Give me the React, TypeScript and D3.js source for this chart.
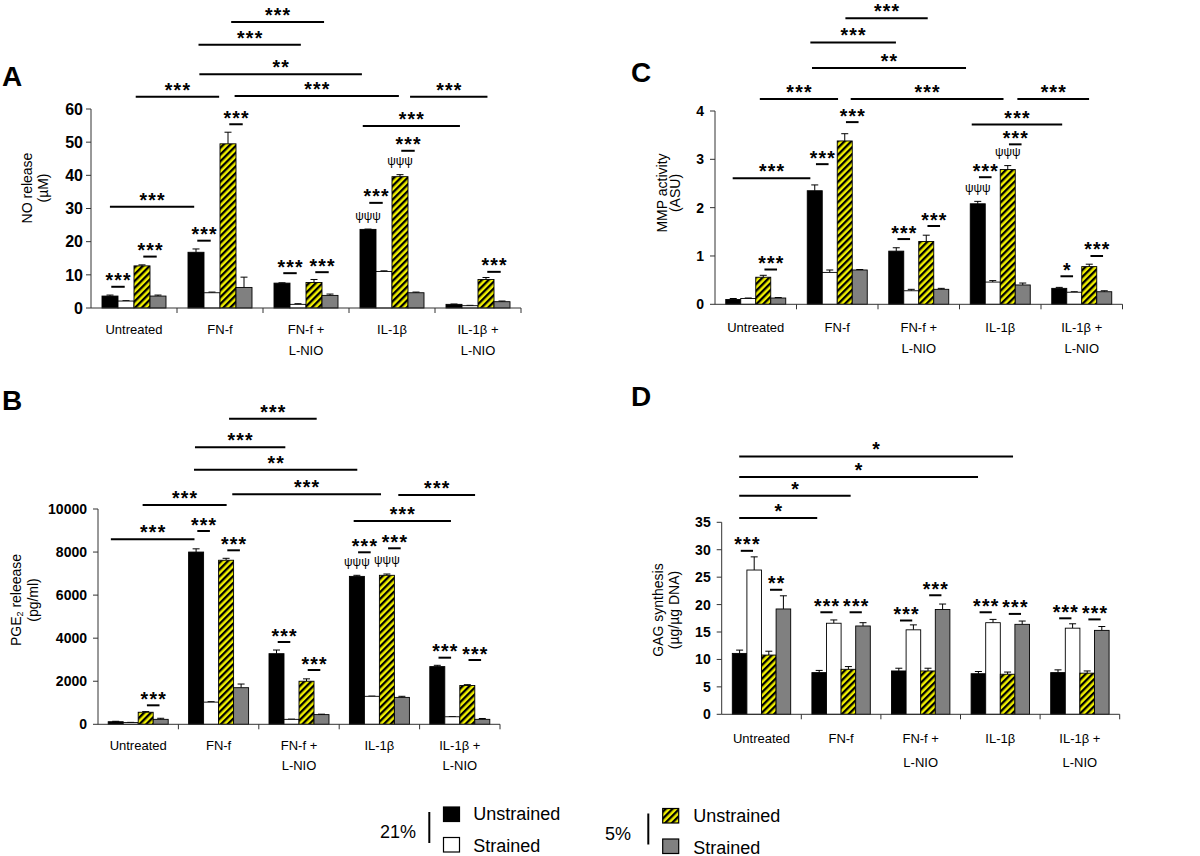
import React from "react";
import * as d3 from "d3";

// ---------- shared data ----------
const categoryLines: string[][] = [["Untreated"], ["FN-f"], ["FN-f +", "L-NIO"], ["IL-1β"], ["IL-1β +", "L-NIO"]];
const seriesLabels = ["21% Unstrained", "21% Strained", "5% Unstrained", "5% Strained"];
const legendGroups = ["21%", "5%"];
const legendItems = ["Unstrained", "Strained"];

// ---------- Panel A: NO release (µM) ----------
const noMean = [[3.6, 2.1, 12.7, 3.6], [16.8, 4.6, 49.5, 6.2], [7.5, 1.1, 7.7, 3.8], [23.7, 11.0, 39.6, 4.6], [1.1, 0.7, 8.6, 1.9]];
const noErr = [[0.3, 0.1, 0.3, 0.3], [1.0, 0.2, 3.5, 3.1], [0.1, 0.2, 0.9, 0.4], [0.1, 0.2, 0.6, 0.2], [0.1, 0.1, 0.6, 0.2]];
const noTicks = [0, 10, 20, 30, 40, 50, 60];
const noPairs: [number, number, number, number, string][] = [
  [0, 0, 1, 6.4, "***"], [0, 2, 3, 15.5, "***"], [1, 0, 1, 20.3, "***"], [1, 2, 3, 55.4, "***"],
  [2, 0, 1, 10.5, "***"], [2, 2, 3, 10.8, "***"], [3, 0, 1, 31.7, "***"], [3, 2, 3, 47.4, "***"], [4, 2, 3, 10.9, "***"],
];
const noPsi: [number, number, number][] = [[3, 0, 27.5], [3, 2, 44.1]];
const noSpans: [number, number, number, string][] = [
  [0.22, 1.2, 30.5, "***"], [3.16, 4.29, 54.9, "***"], [0.52, 1.49, 63.7, "***"], [1.67, 3.58, 63.9, "***"],
  [3.71, 4.61, 63.7, "***"], [1.26, 3.15, 70.5, "**"], [1.25, 2.44, 79.4, "***"], [1.63, 2.71, 86.2, "***"],
];

// ---------- Panel B: PGE2 release (pg/ml) ----------
const pgeMean = [[120, 80, 560, 230], [8000, 1030, 7620, 1700], [3280, 230, 2000, 450], [6870, 1300, 6920, 1250], [2680, 350, 1800, 230]];
const pgeErr = [[20, 10, 30, 50], [150, 20, 90, 170], [170, 10, 110, 20], [50, 10, 60, 50], [60, 10, 40, 40]];
const pgeTicks = [0, 2000, 4000, 6000, 8000, 10000];
const pgePairs: [number, number, number, number, string][] = [
  [0, 2, 3, 882, "***"], [1, 0, 1, 8978, "***"], [1, 2, 3, 8082, "***"], [2, 0, 1, 3822, "***"], [2, 2, 3, 2522, "***"],
  [3, 0, 1, 7989, "***"], [3, 2, 3, 8175, "***"], [4, 0, 1, 3094, "***"], [4, 2, 3, 2986, "***"],
];
const pgePsi: [number, number, number][] = [[3, 0, 7524], [3, 2, 7631]];
const pgeSpans: [number, number, number, string][] = [
  [0.16, 1.2, 8593, "***"], [0.555, 1.6, 10186, "***"], [1.67, 3.52, 10683, "***"], [3.735, 4.69, 10650, "***"],
  [3.18, 4.39, 9443, "***"], [1.194, 3.225, 11826, "**"], [1.206, 2.33, 12866, "***"], [1.63, 2.72, 14194, "***"],
];

// ---------- Panel C: MMP activity (ASU) ----------
const mmpMean = [[0.1, 0.12, 0.56, 0.13], [2.35, 0.66, 3.38, 0.71], [1.1, 0.28, 1.3, 0.31], [2.08, 0.46, 2.79, 0.4], [0.33, 0.25, 0.78, 0.26]];
const mmpErr = [[0.02, 0.01, 0.04, 0.01], [0.12, 0.05, 0.15, 0.01], [0.07, 0.03, 0.13, 0.02], [0.05, 0.03, 0.08, 0.04], [0.02, 0.01, 0.05, 0.02]];
const mmpTicks = [0, 1, 2, 3, 4];
const mmpPairs: [number, number, number, number, string][] = [
  [0, 2, 3, 0.72, "***"], [1, 0, 1, 2.9, "***"], [1, 2, 3, 3.77, "***"], [2, 0, 1, 1.35, "***"], [2, 2, 3, 1.62, "***"],
  [3, 0, 1, 2.63, "***"], [3, 2, 3, 3.31, "***"], [4, 0, 1, 0.58, "*"], [4, 2, 3, 1.0, "***"],
];
const mmpPsi: [number, number, number][] = [[3, 0, 2.39], [3, 2, 3.14]];
const mmpSpans: [number, number, number, string][] = [
  [0.217, 1.17, 2.61, "***"], [0.55, 1.51, 4.25, "***"], [1.665, 3.54, 4.25, "***"], [3.71, 4.59, 4.25, "***"],
  [3.15, 4.26, 3.72, "***"], [1.19, 3.08, 4.89, "**"], [1.17, 2.22, 5.42, "***"], [1.6, 2.61, 5.92, "***"],
];

// ---------- Panel D: GAG synthesis (µg/µg DNA) ----------
const gagMean = [[11.1, 26.3, 10.8, 19.2], [7.6, 16.6, 8.2, 16.1], [7.9, 15.4, 7.9, 19.1], [7.4, 16.7, 7.3, 16.4], [7.6, 15.7, 7.5, 15.3]];
const gagErr = [[0.6, 2.4, 0.7, 2.4], [0.4, 0.6, 0.5, 0.6], [0.5, 0.9, 0.5, 1.0], [0.4, 0.6, 0.4, 0.6], [0.5, 0.8, 0.4, 0.7]];
const gagTicks = [0, 5, 10, 15, 20, 25, 30, 35];
const gagPairs: [number, number, number, number, string][] = [
  [0, 0, 1, 29.8, "***"], [0, 2, 3, 22.7, "**"], [1, 0, 1, 18.6, "***"], [1, 2, 3, 18.6, "***"], [2, 0, 1, 17.1, "***"],
  [2, 2, 3, 21.7, "***"], [3, 0, 1, 18.6, "***"], [3, 2, 3, 18.3, "***"], [4, 0, 1, 17.5, "***"], [4, 2, 3, 17.3, "***"],
];
const gagPsi: [number, number, number][] = [];
const gagSpans: [number, number, number, string][] = [
  [0.22, 1.2, 35.8, "*"], [0.22, 1.62, 39.85, "*"], [0.22, 3.22, 43.25, "*"], [0.22, 3.66, 47.0, "*"],
];

// ---------- drawing ----------
const FONT = "'Liberation Sans', Arial, Helvetica, sans-serif";
const FILLS = ["#000000", "#ffffff", "url(#hatch)", "#808080"];

type Layout = {
  x0: number; catW: number; pad: number; barW: number; y0: number; yTop: number;
  tickFs: number; tickGap: number; titleX: [number, number]; titleY: number;
  labelY: number; labelDy: number; letter: string; letterX: number; letterY: number;
};

function Stars({ x, y, text }: { x: number; y: number; text: string }) {
  return (
    <text x={x + 0.6} y={y + 0.5} textAnchor="middle" fontFamily={FONT} fontWeight="bold" fontSize={19.5} letterSpacing={1.2}>
      {text}
    </text>
  );
}

function Panel(props: {
  L: Layout; mean: number[][]; err: number[][]; ticks: number[];
  pairs: [number, number, number, number, string][]; psi: [number, number, number][];
  spans: [number, number, number, string][]; title: React.ReactNode[];
}) {
  const { L, mean, err, ticks, pairs, psi, spans, title } = props;
  const y = d3.scaleLinear().domain([0, ticks[ticks.length - 1]]).range([L.y0, L.yTop]);
  const xc = d3.scaleLinear().domain([0, categoryLines.length]).range([L.x0, L.x0 + categoryLines.length * L.catW]);
  const barX = (c: number, s: number) => xc(c) + L.pad + s * L.barW;
  const barC = (c: number, s: number) => barX(c, s) + L.barW / 2;
  const xEnd = xc(categoryLines.length);
  return (
    <g fontFamily={FONT}>
      <text x={L.letterX} y={L.letterY} fontSize={28} fontWeight="bold">{L.letter}</text>
      {title.map((t, i) => (
        <text key={i} transform={`translate(${L.titleX[i]},${L.titleY}) rotate(-90)`} textAnchor="middle"
          dominantBaseline="central" fontSize={14}>{t}</text>
      ))}
      {mean.map((row, c) =>
        row.map((v, s) => (
          <g key={`${c}-${s}`}>
            <line x1={barC(c, s)} x2={barC(c, s)} y1={y(v)} y2={y(v + err[c][s])} stroke="#000" strokeWidth={1} />
            <line x1={barC(c, s) - 3.5} x2={barC(c, s) + 3.5} y1={y(v + err[c][s])} y2={y(v + err[c][s])} stroke="#000" strokeWidth={1} />
            <rect x={barX(c, s)} y={y(v)} width={L.barW} height={y(0) - y(v)} fill={FILLS[s]} stroke="#000" strokeWidth={0.9} />
          </g>
        ))
      )}
      <line x1={L.x0} x2={L.x0} y1={L.yTop} y2={L.y0} stroke="#333" strokeWidth={1} />
      <line x1={L.x0} x2={xEnd} y1={L.y0} y2={L.y0} stroke="#333" strokeWidth={1} />
      {ticks.map((t) => (
        <g key={t}>
          <line x1={L.x0 - 5} x2={L.x0} y1={y(t)} y2={y(t)} stroke="#333" />
          <text x={L.x0 - L.tickGap} y={y(t)} dy="0.36em" textAnchor="end" fontSize={L.tickFs} fontWeight="bold">{t}</text>
        </g>
      ))}
      {categoryLines.map((_, c) => (
        <line key={c} x1={xc(c + 1)} x2={xc(c + 1)} y1={L.y0} y2={L.y0 + 5} stroke="#333" />
      ))}
      {categoryLines.map((lines, c) =>
        lines.map((ln, k) => (
          <text key={`${c}-${k}`} x={xc(c + 0.5)} y={L.labelY + k * L.labelDy} textAnchor="middle" fontSize={13}>{ln}</text>
        ))
      )}
      {pairs.map(([c, a, b, v, lab], i) => {
        const mid = (barC(c, a) + barC(c, b)) / 2;
        const half = L.barW * 0.42;
        return (
          <g key={`p${i}`}>
            <line x1={mid - half} x2={mid + half} y1={y(v)} y2={y(v)} stroke="#000" strokeWidth={2} />
            <Stars x={mid} y={y(v)} text={lab} />
          </g>
        );
      })}
      {psi.map(([c, s, v], i) => (
        <text key={`s${i}`} x={barC(c, s)} y={y(v)} dy="0.3em" textAnchor="middle" fontSize={12}>ψψψ</text>
      ))}
      {spans.map(([a, b, v, lab], i) => (
        <g key={`l${i}`}>
          <line x1={xc(a)} x2={xc(b)} y1={y(v)} y2={y(v)} stroke="#000" strokeWidth={2} />
          <Stars x={(xc(a) + xc(b)) / 2} y={y(v) - 0.5} text={lab} />
        </g>
      ))}
    </g>
  );
}

const layoutA: Layout = { x0: 91, catW: 86, pad: 11, barW: 16, y0: 308, yTop: 109, tickFs: 16, tickGap: 8, titleX: [27, 43], titleY: 188, labelY: 334, labelDy: 21, letter: "A", letterX: 2, letterY: 86 };
const layoutB: Layout = { x0: 98, catW: 80.4, pad: 10.2, barW: 15, y0: 724.3, yTop: 509, tickFs: 14, tickGap: 11, titleX: [16, 33], titleY: 600, labelY: 750, labelDy: 20, letter: "B", letterX: 2, letterY: 410 };
const layoutC: Layout = { x0: 715, catW: 81.5, pad: 10.75, barW: 15, y0: 304.3, yTop: 111, tickFs: 14, tickGap: 11, titleX: [661.7, 675], titleY: 193, labelY: 332, labelDy: 21, letter: "C", letterX: 631, letterY: 82 };
const layoutD: Layout = { x0: 721.7, catW: 79.6, pad: 10.6, barW: 14.6, y0: 714.3, yTop: 522.3, tickFs: 14, tickGap: 11, titleX: [658, 674], titleY: 610, labelY: 743, labelDy: 24, letter: "D", letterX: 631, letterY: 406 };

function Legend() {
  const groups = [
    { gx: 380, bar: 429.3, sq: 443.5, tx: 473.3, top: 807 },
    { gx: 605, bar: 648.3, sq: 662.7, tx: 693.3, top: 808.5 },
  ];
  return (
    <g fontFamily={FONT} fontSize={18}>
      {groups.map((g, gi) => (
        <g key={gi}>
          <text x={g.gx} y={g.top + 31}>{legendGroups[gi]}</text>
          <line x1={g.bar} x2={g.bar} y1={g.top + 5} y2={g.top + 36} stroke="#000" strokeWidth={2} />
          {legendItems.map((it, k) => (
            <g key={k}>
              <rect x={g.sq} y={g.top + k * 30.5} width={16} height={14.5} fill={FILLS[gi * 2 + k]} stroke="#000" strokeWidth={1.2} />
              <text x={g.tx} y={g.top + 13 + k * 32}>{it}</text>
            </g>
          ))}
        </g>
      ))}
    </g>
  );
}

export default function App() {
  return (
    <svg width={1200} height={856} style={{ position: "absolute", left: 0, top: 0, background: "#fff" }}
      aria-label={seriesLabels.join(", ")}>
      <defs>
        <pattern id="hatch" patternUnits="userSpaceOnUse" width={4.8} height={4.8} patternTransform="rotate(45)">
          <rect width={4.8} height={4.8} fill="#f0f000" />
          <rect width={2.3} height={4.8} fill="#000" />
        </pattern>
      </defs>
      <rect width={1200} height={856} fill="#fff" />
      <Panel L={layoutA} mean={noMean} err={noErr} ticks={noTicks} pairs={noPairs} psi={noPsi} spans={noSpans}
        title={["NO release", "(µM)"]} />
      <Panel L={layoutB} mean={pgeMean} err={pgeErr} ticks={pgeTicks} pairs={pgePairs} psi={pgePsi} spans={pgeSpans}
        title={[
          <>PGE<tspan fontSize={9} dy={4}>2</tspan><tspan dy={-4}> releease</tspan></>,
          "(pg/ml)",
        ]} />
      <Panel L={layoutC} mean={mmpMean} err={mmpErr} ticks={mmpTicks} pairs={mmpPairs} psi={mmpPsi} spans={mmpSpans}
        title={["MMP activity", "(ASU)"]} />
      <Panel L={layoutD} mean={gagMean} err={gagErr} ticks={gagTicks} pairs={gagPairs} psi={gagPsi} spans={gagSpans}
        title={["GAG synthesis", "(µg/µg DNA)"]} />
      <Legend />
    </svg>
  );
}
